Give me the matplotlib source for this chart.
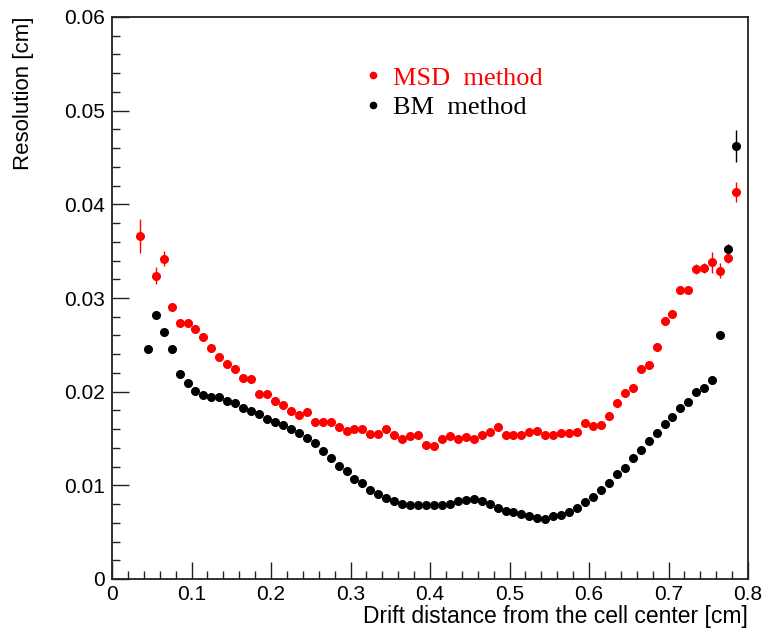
# -*- coding: utf-8 -*-

# resolution vs drift distance, MSD and BM methods (ROOT-like style)

import numpy as np
import matplotlib
matplotlib.use('Agg')
import matplotlib.pyplot as plt
from matplotlib.lines import Line2D
from matplotlib.ticker import MultipleLocator, FormatStrFormatter

plt.rcParams['font.family'] = ['Liberation Sans', 'DejaVu Sans']

nan = np.nan

# bin centres [cm]
drift = [0.035, 0.045, 0.055, 0.065, 0.075, 0.085, 0.095, 0.105, 0.115, 0.125,
         0.135, 0.145, 0.155, 0.165, 0.175, 0.185, 0.195, 0.205, 0.215, 0.225,
         0.235, 0.245, 0.255, 0.265, 0.275, 0.285, 0.295, 0.305, 0.315, 0.325,
         0.335, 0.345, 0.355, 0.365, 0.375, 0.385, 0.395, 0.405, 0.415, 0.425,
         0.435, 0.445, 0.455, 0.465, 0.475, 0.485, 0.495, 0.505, 0.515, 0.525,
         0.535, 0.545, 0.555, 0.565, 0.575, 0.585, 0.595, 0.605, 0.615, 0.625,
         0.635, 0.645, 0.655, 0.665, 0.675, 0.685, 0.695, 0.705, 0.715, 0.725,
         0.735, 0.745, 0.755, 0.765, 0.775, 0.785]
bin_half = [0.005] * len(drift)

msd = [0.0366, nan, 0.0324, 0.0342, 0.0290, 0.0273, 0.0273, 0.0267, 0.0258, 0.0247,
       0.0237, 0.0230, 0.0224, 0.0215, 0.0214, 0.0197, 0.0197, 0.0190, 0.0186, 0.0179,
       0.0175, 0.0178, 0.0168, 0.0168, 0.0168, 0.0162, 0.0158, 0.0160, 0.0160, 0.0155,
       0.0155, 0.0160, 0.0154, 0.0150, 0.0153, 0.0154, 0.0143, 0.0142, 0.0149, 0.0153,
       0.0150, 0.0152, 0.0150, 0.0154, 0.0157, 0.0162, 0.0154, 0.0154, 0.0154, 0.0157,
       0.0158, 0.0154, 0.0154, 0.0156, 0.0156, 0.0157, 0.0167, 0.0163, 0.0164, 0.0174,
       0.0188, 0.0199, 0.0204, 0.0224, 0.0228, 0.0248, 0.0275, 0.0283, 0.0309, 0.0309,
       0.0331, 0.0332, 0.0338, 0.0329, 0.0343, 0.0413]
msd_err = [0.0018, nan, 0.0009, 0.0008, 0.0004, 0.0003, 0.0003, 0.0003, 0.0003, 0.0003,
           0.0002, 0.0002, 0.0002, 0.0002, 0.0002, 0.0002, 0.0002, 0.0002, 0.0002, 0.0002,
           0.0002, 0.0002, 0.0002, 0.0002, 0.0002, 0.0002, 0.0002, 0.0002, 0.0002, 0.0002,
           0.0002, 0.0002, 0.0002, 0.0002, 0.0002, 0.0002, 0.0002, 0.0002, 0.0002, 0.0002,
           0.0002, 0.0002, 0.0002, 0.0002, 0.0002, 0.0002, 0.0002, 0.0002, 0.0002, 0.0002,
           0.0002, 0.0002, 0.0002, 0.0002, 0.0002, 0.0002, 0.0002, 0.0002, 0.0002, 0.0002,
           0.0002, 0.0003, 0.0003, 0.0003, 0.0003, 0.0003, 0.0003, 0.0003, 0.0003, 0.0003,
           0.0005, 0.0005, 0.0011, 0.0008, 0.0006, 0.0011]

bm = [nan, 0.0246, 0.0282, 0.0264, 0.0246, 0.0219, 0.0209, 0.0201, 0.0196, 0.0194,
      0.0194, 0.0190, 0.0188, 0.0183, 0.0179, 0.0176, 0.0171, 0.0168, 0.0164, 0.0160,
      0.0156, 0.0151, 0.0145, 0.0137, 0.0129, 0.0121, 0.0115, 0.0107, 0.0102, 0.0095,
      0.0091, 0.0086, 0.0083, 0.0080, 0.0079, 0.0079, 0.0079, 0.0079, 0.0079, 0.0080,
      0.0083, 0.0084, 0.0085, 0.0083, 0.0080, 0.0076, 0.0073, 0.0072, 0.0069, 0.0067,
      0.0065, 0.0064, 0.0067, 0.0068, 0.0071, 0.0076, 0.0082, 0.0088, 0.0095, 0.0103,
      0.0112, 0.0119, 0.0129, 0.0138, 0.0147, 0.0156, 0.0165, 0.0173, 0.0183, 0.0189,
      0.0200, 0.0204, 0.0212, 0.0260, 0.0352, 0.0462]
bm_err = [nan, 0.0003, 0.0003, 0.0003, 0.0003, 0.0002, 0.0002, 0.0002, 0.0002, 0.0002,
          0.0002, 0.0002, 0.0002, 0.0002, 0.0002, 0.0002, 0.0002, 0.0002, 0.0002, 0.0002,
          0.0002, 0.0002, 0.0002, 0.0002, 0.0002, 0.0002, 0.0002, 0.0002, 0.0002, 0.0002,
          0.0002, 0.0002, 0.0002, 0.0002, 0.0002, 0.0002, 0.0002, 0.0002, 0.0002, 0.0002,
          0.0002, 0.0002, 0.0002, 0.0002, 0.0002, 0.0002, 0.0002, 0.0002, 0.0002, 0.0002,
          0.0002, 0.0002, 0.0002, 0.0002, 0.0002, 0.0002, 0.0002, 0.0002, 0.0002, 0.0002,
          0.0002, 0.0002, 0.0002, 0.0002, 0.0002, 0.0002, 0.0002, 0.0002, 0.0002, 0.0002,
          0.0002, 0.0002, 0.0002, 0.0003, 0.0006, 0.0017]

labels = ['MSD  method', 'BM  method']
colors = ['red', 'black']

fig = plt.figure(figsize=(7.65, 6.32), dpi=100)
ax = fig.add_axes([112/765., 53/632., 636/765., 562/632.])

ax.errorbar(drift, msd, yerr=msd_err, xerr=bin_half, fmt='o', color=colors[0],
            ms=5.5, elinewidth=1.0, capsize=0)
ax.errorbar(drift, bm, yerr=bm_err, xerr=bin_half, fmt='o', color=colors[1],
            ms=5.5, elinewidth=1.0, capsize=0)

ax.set_xlim(0, 0.8)
ax.set_ylim(0, 0.06)

ax.xaxis.set_major_locator(MultipleLocator(0.1))
ax.xaxis.set_minor_locator(MultipleLocator(0.02))
ax.yaxis.set_major_locator(MultipleLocator(0.01))
ax.yaxis.set_minor_locator(MultipleLocator(0.002))
ax.xaxis.set_major_formatter(FormatStrFormatter('%g'))
ax.yaxis.set_major_formatter(FormatStrFormatter('%g'))

ax.tick_params(which='both', direction='in', top=False, right=False,
               labelsize=15, width=1.0, color='#222222')
ax.tick_params(which='major', length=12)
ax.tick_params(which='minor', length=6)
ax.tick_params(axis='y', pad=5)
ax.tick_params(axis='x', pad=4)
for s in ax.spines.values():
    s.set_linewidth(1.3)
    s.set_color('#222222')

ax.set_xlabel('Drift distance from the cell center [cm]', fontsize=16.5, loc='right', labelpad=1)
ax.set_ylabel('Resolution [cm]', fontsize=16, loc='top', labelpad=22)

# legend: plain dots, as in the ROOT TLegend
handles = [Line2D([], [], linestyle='none', marker='o', ms=4.5, color=c) for c in colors]
ax.legend(handles=handles, labels=labels, loc='upper left', bbox_to_anchor=(0.363, 0.955),
          frameon=False, handlelength=0.5, handletextpad=0.5, labelspacing=0.22,
          labelcolor=colors, prop={'family': ['Liberation Serif'], 'size': 19})

fig.savefig('out.png', dpi=100)
